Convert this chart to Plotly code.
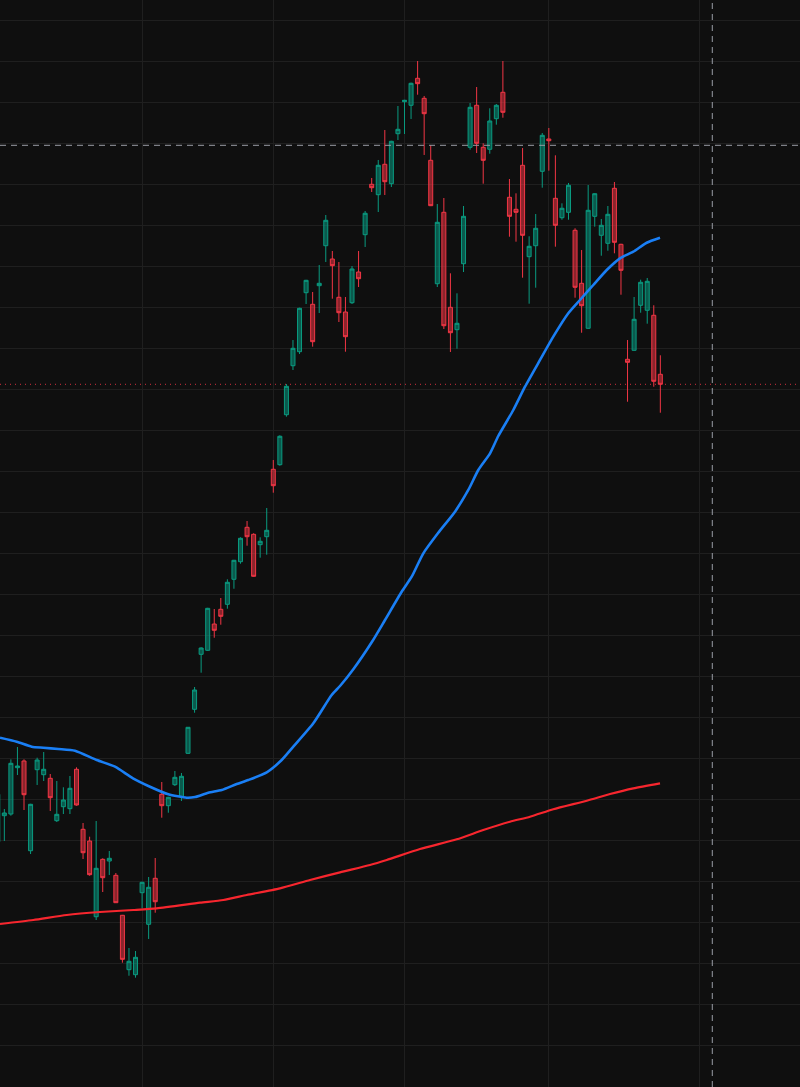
import plotly.graph_objects as go

# Candle index (daily bars) and OHLC prices
bar_index = list(range(-1, 101))
open_ = [149.66, 156.00, 156.41, 167.71, 169.34, 147.46, 167.22, 166.00, 165.12, 154.78,
         158.19, 157.71, 167.32, 152.68, 149.83, 131.36, 145.36, 144.95, 141.46, 131.71,
         118.44, 117.22, 137.22, 129.51, 140.73, 161.22, 158.44, 163.56, 160.63, 171.22,
         181.95, 195.36, 196.34, 202.75, 206.34, 207.56, 213.66, 217.95, 226.34, 224.63,
         222.10, 224.05, 240.49, 241.61, 253.80, 265.75, 269.17, 283.56, 280.73, 285.27,
         295.02, 291.78, 282.44, 278.85, 281.12, 288.61, 297.71, 310.00, 307.46, 314.88,
         310.15, 322.34, 330.15, 329.27, 335.85, 330.97, 315.85, 285.75, 303.17, 280.00,
         274.54, 290.63, 319.02, 329.27, 319.02, 318.54, 326.00, 332.44, 306.83, 303.90,
         314.63, 292.34, 295.02, 313.17, 321.05, 306.58, 301.85, 303.17, 298.78, 285.85,
         274.88, 302.19, 297.56, 295.61, 309.02, 295.36, 267.32, 269.51, 280.49, 279.27,
         278.05, 263.66]
high = [161.78, 157.63, 169.75, 172.75, 169.75, 158.90, 170.15, 171.54, 166.17, 164.46,
        162.93, 165.68, 167.80, 154.22, 150.88, 154.71, 145.61, 147.39, 142.02, 131.80,
        123.73, 123.00, 139.90, 141.05, 145.68, 164.22, 160.60, 166.90, 166.41, 177.63,
        187.39, 197.07, 206.70, 206.41, 209.10, 213.66, 218.40, 223.90, 227.88, 224.88,
        223.90, 231.05, 242.75, 248.78, 261.29, 272.02, 279.90, 286.70, 283.73, 290.32,
        302.51, 293.73, 291.05, 282.51, 290.07, 293.73, 303.49, 311.54, 315.93, 323.24,
        320.60, 329.10, 330.60, 334.80, 340.07, 331.54, 319.51, 305.19, 306.66, 288.29,
        283.41, 304.71, 329.83, 333.73, 320.00, 328.54, 329.58, 340.07, 311.29, 307.80,
        318.85, 297.32, 302.75, 322.51, 323.73, 317.07, 305.36, 310.32, 299.27, 293.97,
        309.83, 307.80, 301.54, 304.71, 310.56, 295.50, 272.02, 282.51, 286.73, 287.15,
        280.49, 268.29]
low = [149.34, 149.83, 156.00, 165.93, 157.39, 146.66, 163.49, 164.46, 157.15, 154.46,
       156.41, 156.41, 158.44, 145.44, 141.36, 130.56, 137.39, 141.54, 134.70, 120.15,
       116.97, 116.49, 133.41, 125.93, 132.34, 155.51, 156.73, 163.24, 159.58, 171.05,
       181.12, 190.88, 196.20, 199.41, 202.58, 206.49, 211.36, 217.46, 221.85, 214.29,
       218.93, 219.66, 234.78, 241.36, 253.32, 264.71, 268.61, 280.80, 270.39, 278.61,
       291.05, 282.10, 276.41, 269.17, 280.80, 284.95, 294.71, 308.12, 303.24, 307.39,
       309.34, 320.80, 322.27, 325.93, 331.85, 317.15, 304.70, 284.95, 274.71, 269.10,
       269.90, 288.61, 318.44, 317.63, 310.15, 317.46, 324.54, 326.24, 297.22, 296.00,
       287.22, 280.88, 284.78, 309.17, 313.32, 294.78, 301.36, 301.36, 282.34, 273.80,
       274.80, 299.66, 292.58, 293.80, 293.17, 283.07, 256.97, 269.40, 278.68, 276.00,
       260.63, 254.29]
close = [161.22, 156.66, 168.78, 168.12, 161.12, 158.78, 169.58, 167.32, 160.39, 156.34,
         159.83, 162.68, 158.61, 146.97, 141.61, 143.17, 140.88, 145.61, 134.78, 120.97,
         120.49, 121.46, 139.75, 138.54, 135.02, 158.44, 160.49, 165.36, 165.61, 177.56,
         186.66, 196.90, 206.58, 201.22, 204.63, 212.93, 218.29, 223.66, 224.05, 214.39,
         222.93, 225.61, 236.49, 248.54, 260.73, 270.00, 279.75, 286.58, 271.61, 285.85,
         301.22, 290.15, 278.68, 272.83, 289.34, 286.97, 302.93, 309.17, 314.63, 310.63,
         320.49, 323.41, 330.49, 334.63, 334.54, 327.22, 304.78, 300.73, 275.51, 273.80,
         276.10, 302.19, 328.78, 320.00, 315.85, 325.44, 329.27, 327.56, 302.19, 303.17,
         297.56, 294.88, 299.27, 321.95, 320.63, 300.00, 304.15, 309.75, 284.88, 280.39,
         303.66, 307.71, 300.00, 302.68, 295.85, 289.02, 266.58, 277.07, 286.10, 286.34,
         261.95, 261.22]

# Fast moving average (blue), read at positions along the bar index
ma_fast_x = [-0.66, 1.89, 4.17, 5.94, 8.23, 10.77, 14.08, 16.87, 19.61, 22.21,
             25.0, 27.8, 29.07, 31.09, 33.14, 35.42, 37.19, 40.0, 42.28, 44.05,
             47.10, 49.90, 51.17, 53.20, 56.0, 58.03, 60.57, 62.1, 63.87, 66.15,
             68.7, 70.73, 72.25, 74.04, 75.3, 77.59, 79.37, 81.66, 83.68, 85.97,
             87.75, 89.78, 91.83, 93.85, 95.88, 97.92, 99.95]
ma_fast = [175.02, 174.05, 172.83, 172.58, 172.27, 171.85, 169.58, 167.95, 165.12, 163.07,
           161.22, 160.39, 160.56, 161.61, 162.27, 163.73, 164.71, 166.58, 169.58, 172.83,
           178.54, 185.44, 187.63, 191.71, 198.29, 203.73, 210.63, 214.29, 220.00, 225.02,
           230.15, 235.44, 240.32, 244.39, 248.61, 254.95, 260.63, 267.15, 272.83, 278.54,
           281.78, 285.44, 289.10, 291.95, 293.56, 295.75, 296.97]

# Slow moving average (red)
ma_slow_x = [-0.66, 4.42, 9.51, 14.58, 19.66, 23.23, 29.83, 33.38, 36.95, 42.02,
             46.6, 51.17, 55.74, 58.29, 63.36, 68.96, 73.01, 77.08, 80.13, 83.68,
             88.78, 92.33, 95.88, 99.95]
ma_slow = [129.58, 130.56, 131.78, 132.51, 133.00, 133.41, 134.78, 135.44, 136.66, 138.29,
           140.32, 142.19, 143.97, 145.19, 147.88, 150.24, 152.51, 154.54, 155.75, 157.56,
           159.66, 161.29, 162.68, 163.90]

# Month boundary bars (vertical grid) and crosshair position
month_starts = [21, 41, 61, 83, 106]
cross_x = 107.92
cross_y = 319.51

BG = "#0f0f0f"
GRID = "#1f1f1f"

fig = go.Figure()
fig.add_trace(go.Candlestick(
    x=bar_index, open=open_, high=high, low=low, close=close,
    increasing=dict(line=dict(color="#0a9b80", width=1), fillcolor="rgba(8,153,129,0.55)"),
    decreasing=dict(line=dict(color="#f23645", width=1), fillcolor="rgba(242,54,69,0.55)"),
    whiskerwidth=0, showlegend=False, hoverinfo="skip",
))
fig.add_trace(go.Scatter(x=ma_slow_x, y=ma_slow, mode="lines",
                         line=dict(color="#f7262e", width=2.2, shape="spline", smoothing=0.6),
                         showlegend=False, hoverinfo="skip"))
fig.add_trace(go.Scatter(x=ma_fast_x, y=ma_fast, mode="lines",
                         line=dict(color="#1a7ff5", width=2.6, shape="spline", smoothing=0.6),
                         showlegend=False, hoverinfo="skip"))

# last price dotted line
fig.add_shape(type="line", xref="paper", x0=0, x1=1, yref="y", y0=close[-1], y1=close[-1],
              line=dict(color="rgba(242,54,69,0.85)", width=1, dash="1px,4px"), layer="below")
# crosshair
fig.add_shape(type="line", xref="paper", x0=0, x1=1, yref="y", y0=cross_y, y1=cross_y,
              line=dict(color="#9a9da6", width=1, dash="6px,5px"))
fig.add_shape(type="line", xref="x", x0=cross_x, x1=cross_x, yref="paper", y0=0, y1=1,
              line=dict(color="#9a9da6", width=1, dash="6px,5px"))

fig.update_layout(
    width=800, height=1087,
    margin=dict(l=0, r=0, t=0, b=0),
    paper_bgcolor=BG, plot_bgcolor=BG,
    xaxis=dict(range=[-0.66, 121.29], tickvals=month_starts, showticklabels=False,
               showgrid=True, gridcolor=GRID, gridwidth=1, zeroline=False,
               rangeslider=dict(visible=False), fixedrange=True),
    yaxis=dict(range=[89.83, 354.95], tick0=0, dtick=10, showticklabels=False,
               showgrid=True, gridcolor=GRID, gridwidth=1, zeroline=False, fixedrange=True),
    hovermode=False,
    boxgap=0.39,
    boxgroupgap=0,
)

fig.write_html("out.html", config={"displayModeBar": False})

# remove the browser's default page margin so the figure fills the window
with open("out.html", "r", encoding="utf-8") as fh:
    page = fh.read()
page = page.replace("<head>", "<head><style>html,body{margin:0;padding:0;background:#0f0f0f;overflow:hidden}</style>", 1)
with open("out.html", "w", encoding="utf-8") as fh:
    fh.write(page)
